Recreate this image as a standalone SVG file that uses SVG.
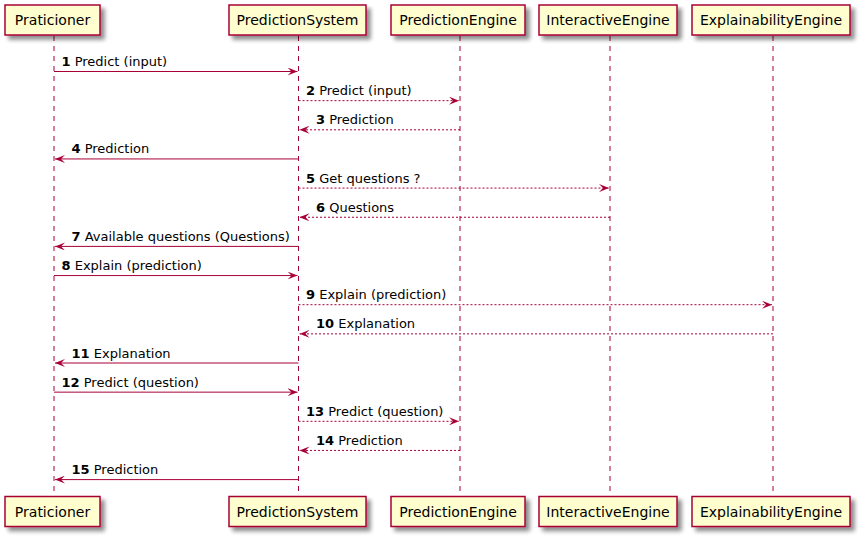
<svg xmlns="http://www.w3.org/2000/svg" width="864" height="540" viewBox="0 0 864 540">
<style>
.box{fill:#FEFECE;stroke:#A80036;stroke-width:1.5;filter:url(#shadow)}
.pt{font-family:"DejaVu Sans",sans-serif;font-size:14px;fill:#000000;text-anchor:middle}
.life{stroke:#A80036;stroke-width:1;stroke-dasharray:5,5;fill:none}
.msg{stroke:#A80036;stroke-width:1;fill:none;marker-end:url(#arrow)}
.dash{stroke-dasharray:2,2}
.mt{font-family:"DejaVu Sans",sans-serif;font-size:13px;fill:#000000}
.num{font-weight:bold}
</style>
<defs>
<filter id="shadow" x="-10%" y="-10%" width="130%" height="150%">
<feGaussianBlur in="SourceAlpha" stdDeviation="2" result="b"/>
<feOffset in="b" dx="4" dy="4" result="o"/>
<feComponentTransfer in="o" result="s"><feFuncA type="linear" slope="0.45"/></feComponentTransfer>
<feMerge><feMergeNode in="s"/><feMergeNode in="SourceGraphic"/></feMerge>
</filter>
<marker id="arrow" markerUnits="userSpaceOnUse" viewBox="0 0 10 8" refX="10" refY="4" markerWidth="10" markerHeight="8" orient="auto">
<path d="M0,0 L10,4 L0,8 L4,4 Z" fill="#A80036" stroke="none"/>
</marker>
</defs>
<rect width="864" height="540" fill="#FFFFFF"/>
<g id="lifelines">
<line class="life" x1="54" y1="36" x2="54" y2="496"/>
<line class="life" x1="298.5" y1="36" x2="298.5" y2="496"/>
<line class="life" x1="460" y1="36" x2="460" y2="496"/>
<line class="life" x1="610" y1="36" x2="610" y2="496"/>
<line class="life" x1="773" y1="36" x2="773" y2="496"/>
</g>
<g id="Praticioner">
<rect class="box" x="5" y="5" width="95" height="30"/>
<text class="pt" x="52.5" y="25.3">Praticioner</text>
<rect class="box" x="5" y="496.5" width="95" height="30"/>
<text class="pt" x="52.5" y="516.8">Praticioner</text>
</g>
<g id="PredictionSystem">
<rect class="box" x="229" y="5" width="137" height="30"/>
<text class="pt" x="297.5" y="25.3">PredictionSystem</text>
<rect class="box" x="229" y="496.5" width="137" height="30"/>
<text class="pt" x="297.5" y="516.8">PredictionSystem</text>
</g>
<g id="PredictionEngine">
<rect class="box" x="391" y="5" width="134" height="30"/>
<text class="pt" x="458" y="25.3">PredictionEngine</text>
<rect class="box" x="391" y="496.5" width="134" height="30"/>
<text class="pt" x="458" y="516.8">PredictionEngine</text>
</g>
<g id="InteractiveEngine">
<rect class="box" x="539" y="5" width="138" height="30"/>
<text class="pt" x="608" y="25.3">InteractiveEngine</text>
<rect class="box" x="539" y="496.5" width="138" height="30"/>
<text class="pt" x="608" y="516.8">InteractiveEngine</text>
</g>
<g id="ExplainabilityEngine">
<rect class="box" x="692" y="5" width="158" height="30"/>
<text class="pt" x="771" y="25.3">ExplainabilityEngine</text>
<rect class="box" x="692" y="496.5" width="158" height="30"/>
<text class="pt" x="771" y="516.8">ExplainabilityEngine</text>
</g>
<g id="connectors">
<line class="msg" x1="54" y1="71.5" x2="297.5" y2="71.5"/>
<text class="mt" x="61.5" y="66"><tspan class="num">1</tspan> Predict (input)</text>
<line class="msg dash" x1="298.5" y1="100.65" x2="459" y2="100.65"/>
<text class="mt" x="306" y="95.15"><tspan class="num">2</tspan> Predict (input)</text>
<line class="msg dash" x1="460" y1="129.8" x2="299.5" y2="129.8"/>
<text class="mt" x="316" y="124.3"><tspan class="num">3</tspan> Prediction</text>
<line class="msg" x1="298.5" y1="158.95" x2="55" y2="158.95"/>
<text class="mt" x="71.5" y="153.45"><tspan class="num">4</tspan> Prediction</text>
<line class="msg dash" x1="298.5" y1="188.1" x2="609" y2="188.1"/>
<text class="mt" x="306" y="182.6"><tspan class="num">5</tspan> Get questions ?</text>
<line class="msg dash" x1="610" y1="217.25" x2="299.5" y2="217.25"/>
<text class="mt" x="316" y="211.75"><tspan class="num">6</tspan> Questions</text>
<line class="msg" x1="298.5" y1="246.4" x2="55" y2="246.4"/>
<text class="mt" x="71.5" y="240.9"><tspan class="num">7</tspan> Available questions (Questions)</text>
<line class="msg" x1="54" y1="275.55" x2="297.5" y2="275.55"/>
<text class="mt" x="61.5" y="270.05"><tspan class="num">8</tspan> Explain (prediction)</text>
<line class="msg dash" x1="298.5" y1="304.7" x2="772" y2="304.7"/>
<text class="mt" x="306" y="299.2"><tspan class="num">9</tspan> Explain (prediction)</text>
<line class="msg dash" x1="773" y1="333.85" x2="299.5" y2="333.85"/>
<text class="mt" x="316" y="328.35"><tspan class="num">10</tspan> Explanation</text>
<line class="msg" x1="298.5" y1="363" x2="55" y2="363"/>
<text class="mt" x="71.5" y="357.5"><tspan class="num">11</tspan> Explanation</text>
<line class="msg" x1="54" y1="392.15" x2="297.5" y2="392.15"/>
<text class="mt" x="61.5" y="386.65"><tspan class="num">12</tspan> Predict (question)</text>
<line class="msg dash" x1="298.5" y1="421.3" x2="459" y2="421.3"/>
<text class="mt" x="306" y="415.8"><tspan class="num">13</tspan> Predict (question)</text>
<line class="msg dash" x1="460" y1="450.45" x2="299.5" y2="450.45"/>
<text class="mt" x="316" y="444.95"><tspan class="num">14</tspan> Prediction</text>
<line class="msg" x1="298.5" y1="479.6" x2="55" y2="479.6"/>
<text class="mt" x="71.5" y="474.1"><tspan class="num">15</tspan> Prediction</text>
</g>
</svg>
